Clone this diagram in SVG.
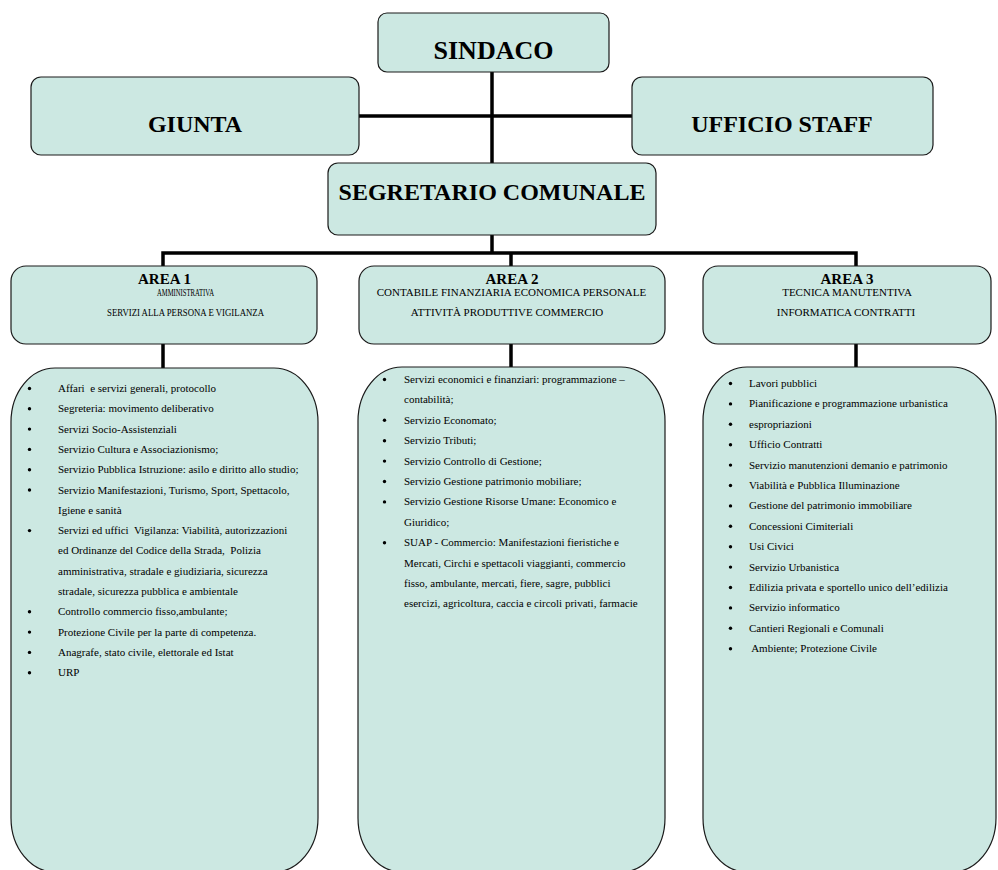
<svg xmlns="http://www.w3.org/2000/svg" width="998" height="870" viewBox="0 0 998 870">
<style>
.box{fill:#cce8e2;stroke:#1a1a1a;stroke-width:1.2}
.conn{stroke:#000;stroke-width:3.5;fill:none}
.big{font-family:"Liberation Serif","Times New Roman",serif;font-weight:bold;text-anchor:middle;fill:#000}
.area{font-family:"Liberation Serif","Times New Roman",serif;font-weight:bold;font-size:15px;text-anchor:middle;fill:#000}
.sub{font-family:"Liberation Serif","Times New Roman",serif;font-size:11px;text-anchor:middle;fill:#000}
.li{font-family:"Liberation Serif","Times New Roman",serif;font-size:11px;fill:#000;white-space:pre}
.bul{fill:#000}
</style>

<g id="connectors">
  <line class="conn" x1="492" y1="72" x2="492" y2="163"/>
  <line class="conn" x1="359" y1="116" x2="632" y2="116"/>
  <line class="conn" x1="492" y1="235" x2="492" y2="253"/>
  <polyline class="conn" points="163,266 163,253 856,253 856,266"/>
  <line class="conn" x1="511" y1="253" x2="511" y2="266"/>
  <line class="conn" x1="163" y1="344" x2="163" y2="368"/>
  <line class="conn" x1="511" y1="344" x2="511" y2="367"/>
  <line class="conn" x1="856" y1="344" x2="856" y2="367"/>
</g>

<g id="sindaco">
  <rect class="box" x="378" y="13" width="231" height="59" rx="9"/>
  <text class="big" x="493.5" y="59" font-size="26">SINDACO</text>
</g>

<g id="giunta">
  <rect class="box" x="31" y="77" width="328" height="78" rx="10"/>
  <text class="big" x="195" y="132" font-size="24">GIUNTA</text>
</g>

<g id="ufficio-staff">
  <rect class="box" x="632" y="77" width="301" height="78" rx="10"/>
  <text class="big" x="782" y="132" font-size="24">UFFICIO STAFF</text>
</g>

<g id="segretario">
  <rect class="box" x="328" y="163" width="328" height="72" rx="10"/>
  <text class="big" x="492" y="200" font-size="24">SEGRETARIO COMUNALE</text>
</g>

<g id="area1">
  <rect class="box" x="11" y="266" width="306" height="78" rx="15"/>
  <text class="area" x="164.5" y="284">AREA 1</text>
  <text class="sub" x="185.5" y="296" textLength="57" lengthAdjust="spacingAndGlyphs" font-size="10">AMMINISTRATIVA</text>
  <text class="sub" x="185.5" y="316" textLength="157" lengthAdjust="spacingAndGlyphs" font-size="10.5">SERVIZI ALLA PERSONA E VIGILANZA</text>
</g>

<g id="area2">
  <rect class="box" x="359" y="266" width="306" height="78" rx="15"/>
  <text class="area" x="512" y="284">AREA 2</text>
  <text class="sub" x="511.5" y="296">CONTABILE FINANZIARIA ECONOMICA PERSONALE</text>
  <text class="sub" x="507" y="316">ATTIVITÀ PRODUTTIVE COMMERCIO</text>
</g>

<g id="area3">
  <rect class="box" x="703" y="266" width="288" height="78" rx="15"/>
  <text class="area" x="847" y="284">AREA 3</text>
  <text class="sub" x="847" y="296">TECNICA MANUTENTIVA</text>
  <text class="sub" x="846" y="316">INFORMATICA CONTRATTI</text>
</g>

<g id="list1">
  <rect class="box" x="11" y="368" width="307" height="504" rx="44" ry="54"/>
  <g class="bul">
    <circle cx="29.5" cy="388.5" r="1.7"/>
    <circle cx="29.5" cy="408.8" r="1.7"/>
    <circle cx="29.5" cy="429.1" r="1.7"/>
    <circle cx="29.5" cy="449.4" r="1.7"/>
    <circle cx="29.5" cy="469.7" r="1.7"/>
    <circle cx="29.5" cy="490" r="1.7"/>
    <circle cx="29.5" cy="530.6" r="1.7"/>
    <circle cx="29.5" cy="611.8" r="1.7"/>
    <circle cx="29.5" cy="632.1" r="1.7"/>
    <circle cx="29.5" cy="652.4" r="1.7"/>
    <circle cx="29.5" cy="672.7" r="1.7"/>
  </g>
  <text class="li" x="58" y="392">Affari  e servizi generali, protocollo</text>
  <text class="li" x="58" y="412.3">Segreteria: movimento deliberativo</text>
  <text class="li" x="58" y="432.6">Servizi Socio-Assistenziali</text>
  <text class="li" x="58" y="452.9">Servizio Cultura e Associazionismo;</text>
  <text class="li" x="58" y="473.2">Servizio Pubblica Istruzione: asilo e diritto allo studio;</text>
  <text class="li" x="58" y="493.5">Servizio Manifestazioni, Turismo, Sport, Spettacolo,</text>
  <text class="li" x="58" y="513.8">Igiene e sanità</text>
  <text class="li" x="58" y="534.1">Servizi ed uffici  Vigilanza: Viabilità, autorizzazioni</text>
  <text class="li" x="58" y="554.4">ed Ordinanze del Codice della Strada,  Polizia</text>
  <text class="li" x="58" y="574.7">amministrativa, stradale e giudiziaria, sicurezza</text>
  <text class="li" x="58" y="595">stradale, sicurezza pubblica e ambientale</text>
  <text class="li" x="58" y="615.3">Controllo commercio fisso,ambulante;</text>
  <text class="li" x="58" y="635.6">Protezione Civile per la parte di competenza.</text>
  <text class="li" x="58" y="655.9">Anagrafe, stato civile, elettorale ed Istat</text>
  <text class="li" x="58" y="676.2">URP</text>
</g>

<g id="list2">
  <rect class="box" x="358" y="367" width="307" height="505" rx="44" ry="54"/>
  <g class="bul">
    <circle cx="384.5" cy="379.5" r="1.7"/>
    <circle cx="384.5" cy="420.3" r="1.7"/>
    <circle cx="384.5" cy="440.7" r="1.7"/>
    <circle cx="384.5" cy="461.1" r="1.7"/>
    <circle cx="384.5" cy="481.5" r="1.7"/>
    <circle cx="384.5" cy="501.9" r="1.7"/>
    <circle cx="384.5" cy="542.7" r="1.7"/>
  </g>
  <text class="li" x="404" y="383">Servizi economici e finanziari: programmazione –</text>
  <text class="li" x="404" y="403.4">contabilità;</text>
  <text class="li" x="404" y="423.8">Servizio Economato;</text>
  <text class="li" x="404" y="444.2">Servizio Tributi;</text>
  <text class="li" x="404" y="464.6">Servizio Controllo di Gestione;</text>
  <text class="li" x="404" y="485">Servizio Gestione patrimonio mobiliare;</text>
  <text class="li" x="404" y="505.4">Servizio Gestione Risorse Umane: Economico e</text>
  <text class="li" x="404" y="525.8">Giuridico;</text>
  <text class="li" x="404" y="546.2">SUAP - Commercio: Manifestazioni fieristiche e</text>
  <text class="li" x="404" y="566.6">Mercati, Circhi e spettacoli viaggianti, commercio</text>
  <text class="li" x="404" y="587">fisso, ambulante, mercati, fiere, sagre, pubblici</text>
  <text class="li" x="404" y="607.4">esercizi, agricoltura, caccia e circoli privati, farmacie</text>
</g>

<g id="list3">
  <rect class="box" x="703" y="367" width="293" height="505" rx="44" ry="54"/>
  <g class="bul">
    <circle cx="730.5" cy="383.5" r="1.7"/>
    <circle cx="730.5" cy="403.9" r="1.7"/>
    <circle cx="730.5" cy="424.3" r="1.7"/>
    <circle cx="730.5" cy="444.7" r="1.7"/>
    <circle cx="730.5" cy="465.1" r="1.7"/>
    <circle cx="730.5" cy="485.5" r="1.7"/>
    <circle cx="730.5" cy="505.9" r="1.7"/>
    <circle cx="730.5" cy="526.3" r="1.7"/>
    <circle cx="730.5" cy="546.7" r="1.7"/>
    <circle cx="730.5" cy="567.1" r="1.7"/>
    <circle cx="730.5" cy="587.5" r="1.7"/>
    <circle cx="730.5" cy="607.9" r="1.7"/>
    <circle cx="730.5" cy="628.3" r="1.7"/>
    <circle cx="730.5" cy="648.7" r="1.7"/>
  </g>
  <text class="li" x="749" y="387">Lavori pubblici</text>
  <text class="li" x="749" y="407.4">Pianificazione e programmazione urbanistica</text>
  <text class="li" x="749" y="427.8">espropriazioni</text>
  <text class="li" x="749" y="448.2">Ufficio Contratti</text>
  <text class="li" x="749" y="468.6">Servizio manutenzioni demanio e patrimonio</text>
  <text class="li" x="749" y="489">Viabilità e Pubblica Illuminazione</text>
  <text class="li" x="749" y="509.4">Gestione del patrimonio immobiliare</text>
  <text class="li" x="749" y="529.8">Concessioni Cimiteriali</text>
  <text class="li" x="749" y="550.2">Usi Civici</text>
  <text class="li" x="749" y="570.6">Servizio Urbanistica</text>
  <text class="li" x="749" y="591">Edilizia privata e sportello unico dell’edilizia</text>
  <text class="li" x="749" y="611.4">Servizio informatico</text>
  <text class="li" x="749" y="631.8">Cantieri Regionali e Comunali</text>
  <text class="li" x="749" y="652.2"> Ambiente; Protezione Civile</text>
</g>
</svg>
